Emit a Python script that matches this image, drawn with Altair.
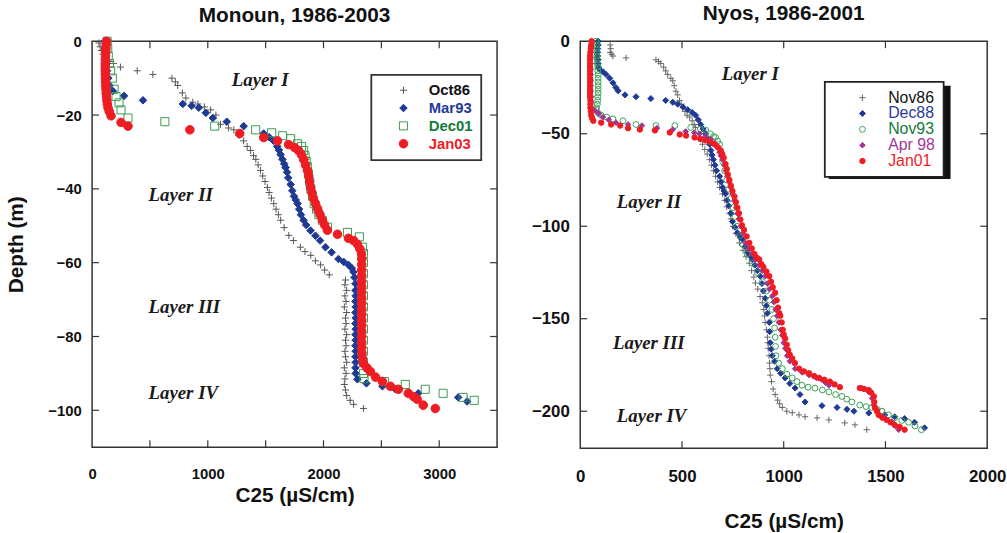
import altair as alt
import pandas as pd

# ---------------- Monoun, 1986-2003 : (C25 uS/cm, depth m) ----------------
mon_series = ["Oct86", "Mar93", "Dec01", "Jan03"]
mon_oct86 = [(60, -0.5), (70, -1.5), (80, -2.5), (95, -3.5), (110, -4.5), (150, -5.5), (185, -6), (245, -7),
             (390, -8), (525, -9), (690, -10), (720, -11), (740, -12), (780, -14), (810, -15.4), (870, -16.5),
             (915, -17), (970, -17.8), (1025, -18.6), (1070, -20), (1110, -22.5), (1180, -23.5), (1225, -24),
             (1270, -25.5), (1310, -27), (1340, -28.5), (1370, -29.6), (1395, -31), (1415, -32), (1435, -33.5),
             (1455, -35), (1475, -36.5), (1495, -38), (1515, -39.6), (1530, -41), (1550, -42.5), (1570, -44),
             (1590, -45.5), (1610, -47), (1630, -48.5), (1660, -50.5), (1700, -52.6), (1740, -54), (1800, -55.8),
             (1840, -57), (1890, -58), (1930, -59.5), (1975, -60.6), (2010, -62), (2050, -63.3), (2190, -64.7),
             (2185, -66), (2200, -67.5), (2185, -69), (2195, -70.5), (2180, -72), (2200, -73.5), (2190, -75),
             (2195, -76.5), (2185, -78), (2200, -79.5), (2190, -81), (2195, -82.5), (2185, -84), (2190, -85.5),
             (2200, -87), (2180, -88.5), (2195, -90), (2185, -91.5), (2180, -93), (2190, -94.5), (2200, -96),
             (2230, -97.3), (2260, -98.4), (2345, -99.5)]
mon_mar93 = [(110, 0), (115, -2), (120, -4), (125, -6), (130, -8), (140, -10), (150, -12), (180, -13.5),
             (276, -14.8), (440, -16), (784, -17), (860, -17.5), (922, -18), (983, -19.4), (1043, -20.8),
             (1164, -21.8), (1310, -23), (1483, -25), (1530, -26), (1569, -27), (1600, -28.5), (1615, -29.5),
             (1629, -30.7), (1645, -32), (1660, -33.2), (1672, -34.2), (1685, -35.5), (1695, -37), (1716, -38.8),
             (1730, -40.5), (1745, -42), (1760, -43), (1776, -44), (1790, -45.5), (1805, -47), (1828, -48.5),
             (1850, -49.8), (1888, -51.3), (1930, -52.7), (1970, -54), (2017, -55.8), (2070, -57.2), (2129, -59),
             (2175, -59.8), (2216, -60.6), (2245, -61.5), (2259, -62.5), (2268, -64), (2276, -65.7), (2276, -67.5),
             (2278, -69), (2276, -70.5), (2278, -72), (2276, -73.5), (2278, -75), (2276, -76.5), (2278, -78),
             (2276, -79.5), (2278, -81), (2276, -82.5), (2278, -84), (2276, -85.5), (2278, -87), (2276, -88.5),
             (2278, -90), (2293, -91.6), (2371, -92.7), (2509, -93.5), (2621, -94.3), (2819, -95.4),
             (3164, -96.5), (3241, -97.6)]
mon_dec01 = [(130, 0), (135, -2), (140, -4), (150, -6), (160, -8), (175, -10), (190, -13), (207, -15),
             (233, -16.7), (250, -18.6), (310, -20.8), (629, -21.8), (1060, -23), (1414, -24), (1552, -24.8),
             (1647, -25.6), (1716, -26.4), (1776, -27.8), (1810, -28.5), (1828, -29.6), (1840, -31),
             (1850, -32.5), (1860, -34), (1870, -36), (1880, -38), (1890, -40), (1905, -42), (1920, -44),
             (1940, -45.5), (1960, -47), (1990, -48.5), (2034, -50.4), (2207, -51.8), (2310, -53), (2336, -55.8),
             (2345, -57.5), (2345, -60), (2345, -63), (2345, -66), (2345, -69), (2345, -72), (2345, -75),
             (2345, -78), (2345, -81), (2345, -84), (2345, -87), (2345, -90), (2350, -91.4), (2526, -92.2),
             (2707, -93), (2879, -94.3), (3034, -95.4), (3207, -96.5), (3302, -97.3)]
mon_jan03 = [(125, 0), (122, -1), (120, -2), (118, -3), (116, -4), (115, -5), (114, -6), (114, -7), (114, -8),
             (115, -9), (116, -10), (117, -11), (118, -12), (120, -13), (122, -14), (125, -15), (128, -16),
             (132, -17), (138, -18), (148, -19), (164, -20.2), (250, -22), (310, -23), (845, -24), (1276, -25),
             (1483, -26.1), (1603, -27), (1698, -28), (1750, -28.8), (1784, -29.6), (1810, -30.8), (1828, -32),
             (1845, -33.5), (1862, -35), (1872, -36.5), (1880, -38), (1888, -39.6), (1900, -41), (1912, -42.5),
             (1931, -44), (1950, -45.5), (1970, -47), (1991, -48.5), (2010, -49.8), (2034, -51.2), (2121, -52.3),
             (2216, -53.4), (2260, -54), (2293, -55), (2315, -56.3), (2328, -57.7), (2330, -59), (2330, -60.5),
             (2330, -62), (2330, -63.5), (2330, -65), (2330, -66.5), (2330, -68), (2330, -69.5), (2330, -71),
             (2330, -72.5), (2330, -74), (2330, -75.5), (2330, -77), (2330, -78.5), (2330, -80), (2330, -81.5),
             (2330, -83), (2332, -84.5), (2338, -86), (2345, -87.3), (2375, -88.5), (2405, -89.5), (2450, -91),
             (2509, -92.2), (2578, -93.5), (2647, -94.3), (2733, -95.4), (2780, -96.3), (2810, -97),
             (2862, -98.6), (2966, -99.5)]

# ---------------- Nyos, 1986-2001 : (C25 uS/cm, depth m) ----------------
nyo_series = ["Nov86", "Dec88", "Nov93", "Apr 98", "Jan01"]
nyo_nov86 = [(147, -2), (150, -4), (147, -6), (155, -7), (161, -8), (225, -9), (372, -10), (385, -11),
             (396, -12), (410, -14), (420, -16), (430, -18), (445, -20), (455, -21.4), (462, -24), (470, -27),
             (479, -29), (488, -32), (496, -34), (504, -36), (515, -38), (525, -40), (538, -41), (550, -43),
             (560, -45), (567, -46.6), (580, -50), (590, -53), (601, -55.7), (612, -58.5), (624, -61), (636, -64),
             (645, -67), (655, -70), (665, -73), (675, -76), (685, -79), (699, -82.5), (710, -86), (720, -89.5),
             (733, -93), (740, -96), (750, -100), (765, -104), (782, -109), (800, -113), (815, -116.5),
             (831, -120), (842, -124), (853, -127.5), (861, -130.7), (872, -134), (884, -138), (895, -141.4),
             (902, -145), (906, -148.5), (909, -152), (915, -156), (920, -160), (922, -163), (924, -166),
             (928, -170), (930, -174), (932, -177), (934, -180.5), (940, -184), (948, -188), (958, -191),
             (970, -194), (980, -196), (993, -198), (1015, -200), (1042, -200.8), (1075, -202), (1105, -203),
             (1164, -203.6), (1222, -204.7), (1300, -206.3), (1350, -207.4), (1408, -210)]
nyo_dec88 = [(88, 0), (88, -2), (86, -4), (86, -6), (86, -8), (88, -10), (88, -12), (90, -14), (98, -15.5),
             (112, -16.5), (127, -18), (145, -20), (161, -22.5), (175, -25), (186, -26.8), (220, -29), (274, -30),
             (347, -31), (420, -32), (455, -33), (479, -34), (505, -35.5), (528, -37), (550, -38.5), (567, -40),
             (580, -42.5), (592, -45), (604, -47.5), (616, -50), (626, -53), (636, -55.7), (642, -59),
             (648, -61.5), (654, -64), (662, -67), (670, -70), (685, -73), (692, -76), (700, -79), (707, -81),
             (714, -82.5), (722, -86), (730, -89), (740, -93), (748, -97.5), (760, -100.5), (772, -103.5),
             (785, -106), (797, -107), (810, -111), (822, -114), (834, -116), (846, -118), (858, -121),
             (870, -124), (885, -127), (893, -131), (900, -135), (909, -139), (915, -143), (920, -147),
             (929, -152), (931, -157), (934, -163), (938, -166.5), (944, -170), (955, -173), (968, -177),
             (985, -179.5), (1007, -182), (1030, -185), (1056, -187.5), (1080, -191), (1105, -195), (1188, -197),
             (1262, -198), (1311, -199), (1345, -200), (1418, -201), (1496, -202), (1545, -203), (1594, -204),
             (1643, -206), (1692, -209)]
nyo_nov93 = [(78, 0), (80, -2), (80, -4), (82, -6), (82, -8), (84, -10), (84, -12), (86, -14), (86, -16),
             (88, -18), (88, -20), (88, -22), (88, -24), (88, -26), (88, -28), (86, -30), (86, -32), (84, -34),
             (80, -36), (78, -37), (90, -39), (103, -40), (130, -41), (161, -42), (210, -43), (274, -45),
             (372, -45.6), (465, -45.6), (543, -46.6), (590, -47.5), (616, -48), (640, -50), (655, -51.5),
             (665, -52), (675, -54), (685, -55.7), (692, -60), (700, -65), (710, -70), (720, -75), (730, -80),
             (740, -85), (750, -90), (760, -95), (770, -100), (785, -105), (800, -110), (820, -115), (845, -120),
             (870, -125), (895, -130), (915, -135), (930, -140), (942, -145), (950, -150), (955, -155),
             (958, -160), (960, -165), (962, -170), (975, -174), (993, -177), (1015, -180), (1042, -182),
             (1065, -184), (1090, -186), (1120, -187), (1154, -187.5), (1190, -188.5), (1222, -189.6),
             (1255, -191), (1286, -192), (1310, -193.5), (1335, -195), (1374, -196.7), (1405, -197.5),
             (1433, -198), (1460, -199), (1482, -200), (1515, -202), (1545, -203.6), (1580, -205), (1614, -206),
             (1645, -208), (1677, -210)]
nyo_apr98 = [(54, 0), (52, -3), (52, -6), (52, -9), (52, -12), (52, -15), (52, -18), (52, -21), (52, -24),
             (52, -27), (54, -30), (54, -33), (54, -36), (73, -37.5), (90, -39), (112, -41), (140, -42.5),
             (176, -44), (235, -45), (303, -45.6), (377, -47), (455, -47.7), (518, -48.8), (560, -49.4),
             (587, -50), (615, -51.5), (641, -53), (660, -55), (675, -57.3), (685, -60), (692, -62), (699, -64),
             (708, -67), (716, -70), (724, -73), (732, -76), (740, -79), (748, -82.5), (758, -86), (767, -90),
             (773, -93), (780, -96), (790, -100), (800, -104), (812, -109), (828, -112), (845, -115), (861, -118),
             (880, -121), (895, -124), (909, -127), (920, -131), (930, -134), (944, -137.7), (952, -141),
             (960, -145), (968, -148.4), (976, -152), (985, -156), (993, -159), (1000, -163), (1008, -166),
             (1017, -170), (1030, -173), (1056, -177), (1090, -179), (1125, -180.5), (1160, -182), (1188, -183),
             (1205, -184.5), (1222, -186), (1384, -187.5), (1418, -189.6), (1435, -193), (1443, -196.7),
             (1455, -199), (1467, -202), (1500, -204), (1531, -205.8), (1550, -208), (1565, -210)]
nyo_jan01 = [(56, 0), (54, -2), (52, -4), (50, -6), (48, -8), (48, -10), (48, -12), (48, -14), (48, -16),
             (48, -18), (48, -20), (48, -22), (48, -24), (48, -26), (48, -28), (48, -30), (50, -32), (50, -34),
             (50, -36), (52, -38), (54, -40), (58, -41.5), (64, -43), (103, -44), (152, -45), (196, -45.6),
             (235, -47), (293, -47.7), (367, -48.2), (440, -49.3), (489, -50.4), (520, -51), (562, -52),
             (590, -52.8), (616, -53.6), (640, -54.5), (660, -55.7), (676, -57.3), (690, -59), (698, -61),
             (705, -63), (714, -66.4), (720, -69), (725, -72), (733, -75), (740, -78), (748, -81), (758, -84),
             (765, -87), (772, -90), (780, -93), (787, -96.4), (795, -99.5), (805, -102), (818, -105.5),
             (831, -109), (843, -112), (856, -115), (868, -117), (880, -118), (890, -120.5), (900, -122),
             (915, -124.5), (929, -127), (938, -130), (946, -133), (958, -136), (965, -140), (972, -144),
             (978, -147), (983, -148.4), (990, -152), (995, -156), (1000, -158.5), (1007, -160.7), (1015, -164),
             (1022, -167), (1030, -169.5), (1042, -171.5), (1055, -174), (1076, -177), (1100, -178.5),
             (1125, -179.5), (1150, -181), (1174, -182), (1200, -183), (1227, -184), (1250, -185.5), (1276, -187),
             (1374, -187.5), (1395, -188), (1418, -188.6), (1430, -190), (1443, -192), (1445, -195), (1448, -198),
             (1458, -200), (1467, -202), (1485, -203.5), (1506, -204.7), (1525, -206), (1545, -207.4),
             (1570, -208.5), (1594, -210)]

# axes ticks / labels
mon_xlabels = [0, 1000, 2000, 3000]
mon_ylabels = [0, -20, -40, -60, -80, -100]
mon_xticks = [500, 1000, 1500, 2000, 2500, 3000]
mon_yticks = [-20, -40, -60, -80, -100]
nyo_xlabels = [0, 500, 1000, 1500, 2000]
nyo_ylabels = [0, -50, -100, -150, -200]
nyo_xticks = [500, 1000, 1500]
nyo_yticks = [-50, -100, -150, -200]

# layer annotations
layer_names = ["Layer I", "Layer II", "Layer III", "Layer IV"]
mon_layer_x = [1207, 488, 488, 488]
mon_layer_y = [-10.4, -41.7, -72.1, -95.2]
nyo_layer_x = [696, 180, 161, 180]
nyo_layer_y = [-18, -86.7, -163, -202.7]

SANS = "Liberation Sans"
PLUS = "M-1,0L1,0M0,-1L0,1"
FRAME = "#333333"


def to_df(names, arrays, key):
    rows = []
    for n, arr in zip(names, arrays):
        for c, d in arr:
            rows.append({"c25": c, "depth": d, key: n})
    return pd.DataFrame(rows)


def color_expr(names, cols):
    e = "'#111111'"
    for n, c in zip(reversed(names), reversed(cols)):
        e = f"datum.label == '{n}' ? '{c}' : " + e
    return {"expr": e}


def panel(df, key, names, strokes, fills, shapes, sizes, lab_cols, xdom, ydom, W, H,
          xlabels, ylabels, xticks, yticks, lx, ly, title, ytitle, tick_fs, xlab_pad, xtitle_pad,
          legend_kw, shadow=None):
    xs = alt.Scale(domain=xdom, nice=False, zero=False)
    ys = alt.Scale(domain=ydom, nice=False, zero=False)
    xax = alt.Axis(values=xlabels, format="d", ticks=False, domain=False, grid=False, labelFlush=False,
                   labelFont=SANS, labelFontWeight="bold", labelFontSize=tick_fs, labelColor="#111",
                   labelPadding=xlab_pad, title="C25 (µS/cm)", titleFont=SANS, titleFontSize=21,
                   titleFontWeight="bold", titleColor="#111", titlePadding=xtitle_pad)
    yax_kw = dict(values=ylabels, format="d", ticks=False, domain=False, grid=False, labelFlush=False,
                  labelFont=SANS, labelFontWeight="bold", labelFontSize=tick_fs, labelColor="#111",
                  labelPadding=11)
    if ytitle:
        yax = alt.Axis(title=ytitle, titleFont=SANS, titleFontSize=21, titleFontWeight="bold",
                       titleColor="#111", titlePadding=21, **yax_kw)
    else:
        yax = alt.Axis(title=None, **yax_kw)
    X = alt.X("c25:Q", scale=xs, axis=xax)
    Y = alt.Y("depth:Q", scale=ys, axis=yax)

    leg = alt.Legend(title=None, orient="none", fillColor="white", labelColor=color_expr(names, lab_cols),
                     **legend_kw)
    pts = alt.Chart(df).mark_point(opacity=1, strokeWidth=1).encode(
        x=X, y=Y,
        shape=alt.Shape(f"{key}:N", scale=alt.Scale(domain=names, range=shapes), legend=leg),
        stroke=alt.Stroke(f"{key}:N", scale=alt.Scale(domain=names, range=strokes), legend=leg),
        fill=alt.Fill(f"{key}:N", scale=alt.Scale(domain=names, range=fills), legend=leg),
        size=alt.Size(f"{key}:N", scale=alt.Scale(domain=names, range=sizes), legend=leg),
        order=alt.Order("ord:Q"),
    )
    tdf_x = pd.DataFrame({"c25": xticks})
    tdf_y = pd.DataFrame({"depth": yticks})
    tick_b = alt.Chart(tdf_x).mark_rule(color=FRAME, strokeWidth=1.2).encode(
        x=X, y=alt.value(H), y2=alt.value(H - 7))
    tick_t = alt.Chart(tdf_x).mark_rule(color=FRAME, strokeWidth=1.2).encode(
        x=X, y=alt.value(0), y2=alt.value(7))
    tick_l = alt.Chart(tdf_y).mark_rule(color=FRAME, strokeWidth=1.2).encode(
        y=Y, x=alt.value(0), x2=alt.value(7))
    tick_r = alt.Chart(tdf_y).mark_rule(color=FRAME, strokeWidth=1.2).encode(
        y=Y, x=alt.value(W), x2=alt.value(W - 7))
    ldf = pd.DataFrame({"c25": lx, "depth": ly, "txt": layer_names})
    txt = alt.Chart(ldf).mark_text(align="left", baseline="middle", font="Liberation Serif",
                                   fontStyle="italic", fontWeight="bold", fontSize=19,
                                   color="#1a1a1a").encode(x=X, y=Y, text="txt:N")
    layers = []
    if shadow is not None:
        sh = alt.Chart(pd.DataFrame({"a": [0]})).mark_rect(color="#111").encode(
            x=alt.value(shadow[0]), x2=alt.value(shadow[1]), y=alt.value(shadow[2]), y2=alt.value(shadow[3]))
        layers.append(sh)
    layers += [pts, tick_b, tick_t, tick_l, tick_r, txt]
    return alt.layer(*layers).properties(
        width=W, height=H,
        title=alt.TitleParams(title, font=SANS, fontSize=21, fontWeight="bold", color="#111",
                              anchor="middle", offset=8))


mon_df = to_df(mon_series, [mon_oct86, mon_mar93, mon_dec01, mon_jan03], "survey")
mon_df["ord"] = mon_df["survey"].map({n: i for i, n in enumerate(mon_series)})
nyo_df = to_df(nyo_series, [nyo_nov86, nyo_dec88, nyo_nov93, nyo_apr98, nyo_jan01], "campaign")
nyo_df["ord"] = nyo_df["campaign"].map({n: i for i, n in enumerate(nyo_series)})

left = panel(
    mon_df, "survey", mon_series,
    strokes=["#555555", "#1f3a93", "#3a9c52", "#ee1d23"],
    fills=["transparent", "#1f3a93", "transparent", "#ee1d23"],
    shapes=[PLUS, "diamond", "square", "circle"],
    sizes=[50, 75, 60, 85],
    lab_cols=["#111111", "#23399b", "#137a3a", "#ee1d23"],
    xdom=[0, 3500], ydom=[-110, 0], W=409, H=410,
    xlabels=mon_xlabels, ylabels=mon_ylabels, xticks=mon_xticks, yticks=mon_yticks,
    lx=mon_layer_x, ly=mon_layer_y, title="Monoun, 1986-2003", ytitle="Depth (m)",
    tick_fs=15, xlab_pad=20, xtitle_pad=3,
    legend_kw=dict(legendX=282, legendY=34, padding=8, strokeColor="#333",
                   labelFont=SANS, labelFontSize=15, labelFontWeight="bold", symbolOffset=17,
                   labelOffset=18, rowPadding=2, symbolStrokeWidth=1),
)
right = panel(
    nyo_df, "campaign", nyo_series,
    strokes=["#666666", "#1f3a93", "#3aa055", "#a03796", "#ee1d23"],
    fills=["transparent", "#1f3a93", "transparent", "#a03796", "#ee1d23"],
    shapes=[PLUS, "diamond", "circle", "diamond", "circle"],
    sizes=[40, 30, 35, 65, 70],
    lab_cols=["#111111", "#2a3c9a", "#147a3a", "#a4359a", "#ee1d23"],
    xdom=[0, 2000], ydom=[-220, 0], W=411, H=411,
    xlabels=nyo_xlabels, ylabels=nyo_ylabels, xticks=nyo_xticks, yticks=nyo_yticks,
    lx=nyo_layer_x, ly=nyo_layer_y, title="Nyos, 1986-2001", ytitle=None,
    tick_fs=17, xlab_pad=21, xtitle_pad=26,
    legend_kw=dict(legendX=247, legendY=41, padding=8, strokeColor="#222",
                   labelFont=SANS, labelFontSize=16, labelFontWeight="normal", symbolOffset=22,
                   labelOffset=18, rowPadding=0, symbolStrokeWidth=1),
    shadow=(251, 374, 45, 139),
)

chart = alt.hconcat(left, right, spacing=31).resolve_scale(
    x="independent", y="independent", shape="independent", stroke="independent",
    fill="independent", size="independent").resolve_legend(
    shape="independent", stroke="independent", fill="independent", size="independent"
).configure_view(stroke=FRAME, strokeWidth=1.5).configure_legend(strokeWidth=1.8).properties(
    padding={"left": 5, "top": 0, "right": 0, "bottom": 0}, background="white")

chart.save("out.html", embed_options={"renderer": "svg", "actions": False})
